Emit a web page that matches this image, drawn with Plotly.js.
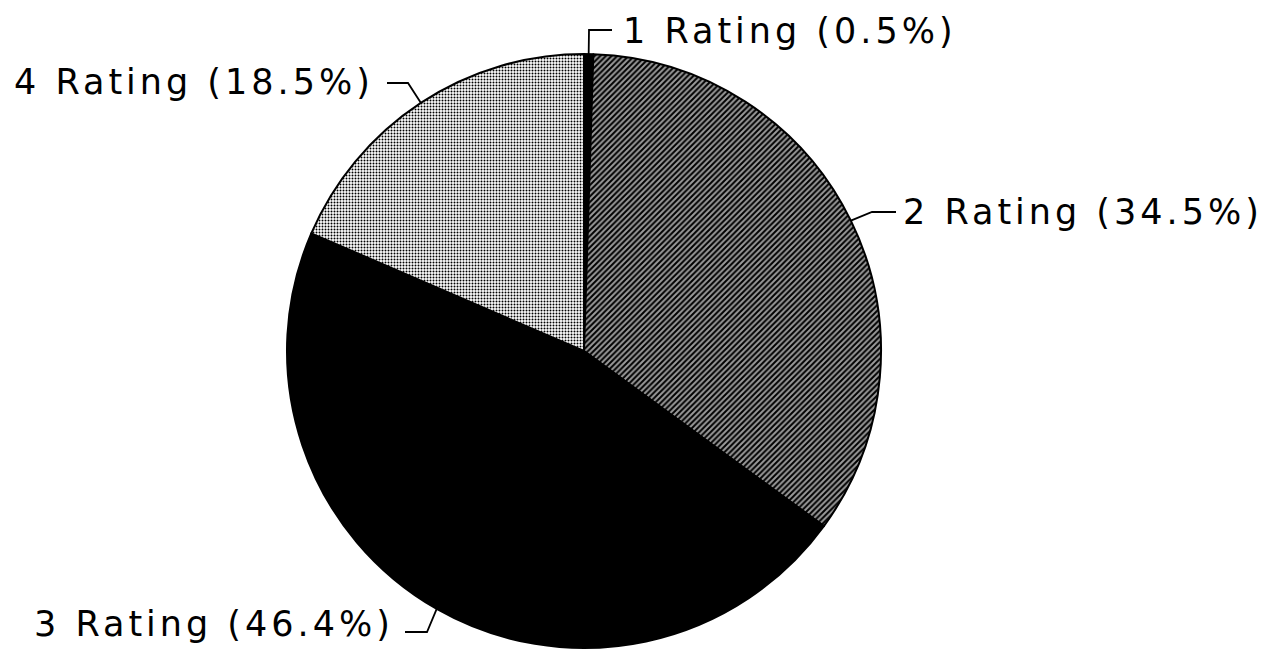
<!DOCTYPE html>
<html>
<head>
<meta charset="utf-8">
<script src="https://cdn.plot.ly/plotly-3.0.1.min.js"></script>
<style>
html,body{margin:0;padding:0;background:#fff;}
#chart{width:1285px;height:663px;}
.annotation-text{letter-spacing:4px;}
</style>
</head>
<body>
<div id="chart"></div>
<script>
// Data
const categories = ["1 Rating", "2 Rating", "3 Rating", "4 Rating"];
const percents = [0.5, 34.5, 46.4, 18.5];

// Layout constants (pixels)
const W = 1285, H = 663;
const CX = 584, CY = 351, R = 297;
// per-slice label layout: elbow point, line end and text anchor (pixels)
const labelLayout = [
  {elbow: [589, 30], end: [612, 30], text: [621, 31]},
  {elbow: [872, 212], end: [896, 212], text: [901, 212]},
  {elbow: [427, 632], end: [405, 632], text: [32, 624]},
  {elbow: [408, 83], end: [387, 83], text: [12, 82]}
];

const px2x = x => x / W;
const px2y = y => 1 - y / H;

const total = percents.reduce((a, b) => a + b, 0);
let cum = 0;
const shapes = [];
const annotations = [];
percents.forEach((v, i) => {
  const mid = (cum + v / 2) / total * 2 * Math.PI;
  cum += v;
  const ex = CX + R * Math.sin(mid);
  const ey = CY - R * Math.cos(mid);
  const L = labelLayout[i];
  shapes.push({
    type: 'path', xref: 'paper', yref: 'paper',
    path: `M ${px2x(ex)} ${px2y(ey)} L ${px2x(L.elbow[0])} ${px2y(L.elbow[1])} L ${px2x(L.end[0])} ${px2y(L.end[1])}`,
    line: {color: '#000', width: 1.8}
  });
  annotations.push({
    xref: 'paper', yref: 'paper',
    x: px2x(L.text[0]), y: px2y(L.text[1]),
    xanchor: 'left', yanchor: 'middle',
    text: `${categories[i]} (${v.toFixed(1)}%)`,
    showarrow: false,
    font: {family: 'DejaVu Sans', size: 35, color: '#000', weight: 500}
  });
});

const trace = {
  type: 'pie',
  labels: categories,
  values: percents,
  sort: false,
  direction: 'clockwise',
  rotation: 0,
  textinfo: 'none',
  hoverinfo: 'none',
  domain: {x: [(CX - R) / W, (CX + R) / W], y: [1 - (CY + R) / H, 1 - (CY - R) / H]},
  marker: {
    colors: ['#000000', '#8a8a8a', '#000000', '#ffffff'],
    line: {color: '#000', width: 2},
    pattern: {
      shape: ['', '/', '', '.'],
      fgcolor: ['#000', '#000', '#000', '#000'],
      bgcolor: ['#000', '#9a9a9a', '#000', '#ffffff'],
      size: [4, 4, 4, 3],
      solidity: [0.5, 0.5, 0.5, 0.35],
      fillmode: 'replace'
    }
  }
};

const layout = {
  width: W, height: H,
  margin: {l: 0, r: 0, t: 0, b: 0},
  paper_bgcolor: '#fff',
  plot_bgcolor: '#fff',
  showlegend: false,
  shapes: shapes,
  annotations: annotations
};

Plotly.newPlot('chart', [trace], layout, {displayModeBar: false, staticPlot: true});
</script>
</body>
</html>
